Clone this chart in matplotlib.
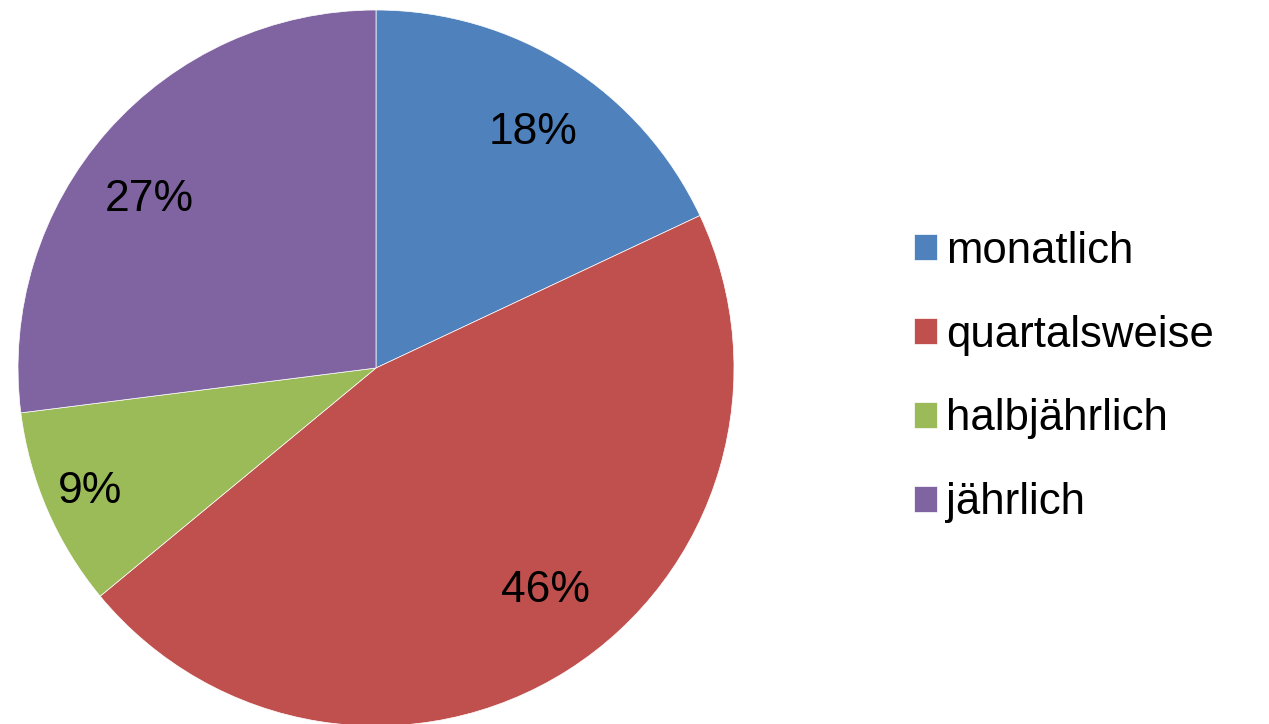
import numpy as np
import matplotlib.pyplot as plt

labels = ['monatlich', 'quartalsweise', 'halbjährlich', 'jährlich']
values = [18, 46, 9, 27]
colors = ['#4F81BD', '#C0504D', '#9BBB59', '#8064A2']


def main():
    plt.rcParams['font.family'] = ['Liberation Sans', 'DejaVu Sans']
    fig = plt.figure(figsize=(12.69, 7.24), dpi=100)
    ax = fig.add_axes([18 / 1269, -2 / 724, 716 / 1269, 716 / 724])

    wedges, texts, autotexts = ax.pie(
        values, colors=colors, startangle=90, counterclock=False,
        autopct='%1.0f%%', pctdistance=0.79, radius=1,
        wedgeprops=dict(edgecolor='white', linewidth=0.5),
        textprops=dict(fontsize=32, color='black'))

    # excel-ish label placement: nudge angle (deg) and distance per label
    nudge = [-1.3, 4.9, 0.0, 4.8]
    dist = [0.79, 0.78, 0.87, 0.79]
    for w, t, da, r in zip(wedges, autotexts, nudge, dist):
        ang = np.deg2rad((w.theta1 + w.theta2) / 2 + da)
        t.set_position((r * np.cos(ang), r * np.sin(ang)))

    ax.set_xlim(-1, 1)
    ax.set_ylim(-1, 1)
    ax.set_aspect('equal')

    fig.legend(wedges, labels, loc='center left',
               bbox_to_anchor=(914 / 1269, 1 - 377 / 724),
               frameon=False, fontsize=31.5, handlelength=0.52,
               handleheight=0.52, handletextpad=0.22, labelspacing=0.98,
               borderpad=0, borderaxespad=0)

    fig.savefig('out.png', dpi=100)


if __name__ == '__main__':
    main()
